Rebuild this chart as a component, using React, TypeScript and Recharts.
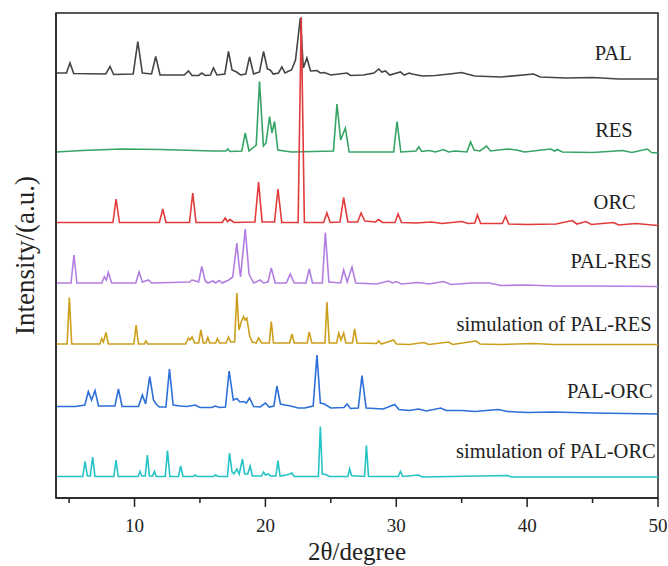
import React from 'react';
import { ComposedChart, Line, Scatter, XAxis, YAxis, ReferenceArea } from 'recharts';

const FONT = "'Liberation Serif', 'Times New Roman', serif";

// 2θ (degree), intensity (a.u., offset-stacked)
const PAL: [number, number][] = [
  [4.0, 425], [4.8, 425], [5.07, 435], [5.35, 424.5], [7.8, 424], [8.13, 431.5], [8.4, 423.5], [9.9, 424],
  [10.25, 456.5], [10.6, 425], [11.3, 424], [11.62, 441.5], [11.95, 423], [13.8, 423], [14.12, 427], [14.4, 422.5],
  [14.9, 422.5], [15.14, 425], [15.4, 422.5], [15.8, 423], [16.03, 430], [16.3, 423], [16.9, 424], [17.18, 446.5],
  [17.45, 428], [17.8, 426], [18.1, 423], [18.5, 424], [18.79, 441], [19.1, 424], [19.55, 426], [19.86, 446.5],
  [20.15, 429], [20.37, 428], [20.6, 424], [21.0, 425], [21.26, 431], [21.5, 425], [21.8, 427], [22.0, 428],
  [22.3, 438], [22.67, 480], [22.9, 430], [23.17, 440], [23.45, 427], [23.94, 427.5], [24.2, 425], [24.5, 425.5],
  [25.0, 423], [26.24, 425], [26.5, 422.5], [27.5, 423], [28.3, 425], [28.66, 429], [28.9, 426], [29.17, 427],
  [29.5, 423], [30.32, 426], [30.6, 423], [31.0, 425], [31.2, 424], [32, 422], [33, 422.5], [34.4, 424.5],
  [35, 425.5], [35.4, 424], [36, 422], [38, 421], [40.5, 424], [41, 421], [43, 420], [45, 420.5], [47, 419], [50, 419],
];

const RES: [number, number][] = [
  [4, 346], [6, 347.5], [9, 349], [12, 348.5], [16, 347], [17.0, 347], [17.13, 349], [17.3, 346.5], [18.2, 347],
  [18.46, 365], [18.75, 347], [19.3, 353], [19.55, 416.5], [19.85, 352], [20.05, 355], [20.32, 381.5], [20.5, 365],
  [20.7, 376.5], [20.95, 348], [22, 346], [25.2, 347], [25.47, 394], [25.75, 358], [26.11, 370], [26.4, 346],
  [29.8, 346], [30.06, 376.5], [30.35, 346], [31.5, 347], [31.72, 351], [31.95, 346.5], [32.5, 347.5], [33, 346],
  [33.6, 348.5], [34, 346], [34.5, 347], [35.4, 346], [35.68, 356], [35.95, 348], [36.4, 347], [36.9, 352],
  [37.2, 347], [38.5, 349], [39.2, 348], [39.8, 346], [41.8, 349], [42.1, 347], [42.3, 348.5], [42.7, 346],
  [45, 345.5], [47.3, 347.5], [48, 345.5], [49.2, 349], [49.5, 345.5], [50, 345],
];

const ORC: [number, number][] = [
  [4, 275.5], [8.35, 275.5], [8.59, 299], [8.85, 275.5], [11.9, 275.5], [12.16, 289], [12.4, 275.5], [14.2, 275.5],
  [14.45, 305], [14.7, 275.5], [16.7, 275.5], [16.93, 280], [17.1, 276.5], [17.3, 278.5], [17.6, 275.5], [19.2, 276],
  [19.48, 316], [19.75, 276], [20.7, 276], [20.96, 309], [21.25, 275.5], [22.5, 275.5], [22.74, 481], [22.98, 275.5],
  [24.45, 275.5], [24.7, 285], [24.95, 275.5], [25.7, 276], [25.98, 300.5], [26.3, 276], [27.05, 276], [27.31, 285],
  [27.6, 277], [28.4, 276], [28.66, 278.5], [28.95, 275.5], [29.9, 275.5], [30.14, 284], [30.4, 275.5], [31.5, 275],
  [32.7, 276], [33.5, 274.5], [35.0, 276.5], [35.5, 274.5], [36.0, 275], [36.2, 283], [36.45, 274.5], [38.1, 274.5],
  [38.35, 281.5], [38.6, 274], [40, 273.5], [42.2, 274], [43.45, 277.5], [43.8, 274], [44.5, 276.5], [44.9, 273.5],
  [46.6, 275.5], [47, 273], [48.3, 274.5], [50, 272.5],
];

const PAL_RES: [number, number][] = [
  [4, 215], [5.15, 215], [5.37, 243], [5.6, 215], [7.5, 215], [7.69, 221], [7.85, 218], [8.0, 225.5], [8.25, 215],
  [10.1, 215], [10.35, 226], [10.6, 216], [11.06, 218], [11.3, 215], [14.2, 216], [14.38, 218], [14.55, 217.5],
  [14.9, 216], [15.14, 231.5], [15.4, 217], [15.6, 215], [16.0, 217], [16.2, 215], [16.47, 217.5], [16.7, 215],
  [17.2, 218], [17.5, 221], [17.82, 255], [17.97, 235], [18.1, 221], [18.46, 269], [18.75, 224], [19.1, 215],
  [19.6, 218], [19.85, 215], [20.2, 216], [20.45, 230], [20.75, 215], [21.6, 215], [21.9, 224], [22.2, 215],
  [23.1, 215], [23.35, 229], [23.6, 215], [24.35, 215], [24.58, 265.5], [24.85, 216], [25.75, 215], [25.98, 228],
  [26.25, 216], [26.62, 231], [26.9, 215], [28.5, 214], [29.4, 217], [29.7, 215], [30.0, 216.5], [30.4, 214],
  [31.7, 215.5], [32.5, 214], [33.6, 216.5], [34.2, 213.5], [35.8, 215], [37.1, 215], [38, 212.5], [40, 213],
  [42, 212], [45, 212], [50, 211.5],
];

const SIM_PAL_RES: [number, number][] = [
  [4, 154], [4.85, 154], [5.02, 200.5], [5.2, 154], [7.35, 154], [7.49, 159.5], [7.62, 156], [7.82, 165.5], [8.0, 154],
  [9.95, 154], [10.12, 173], [10.3, 154], [10.75, 154], [10.88, 157], [11.0, 154], [13.9, 154], [14.12, 160],
  [14.25, 158], [14.4, 161], [14.6, 155], [14.9, 155], [15.07, 168], [15.25, 155], [15.45, 155], [15.6, 160.5],
  [15.75, 155], [16.2, 155], [16.34, 159.5], [16.5, 155], [17.0, 155], [17.18, 161], [17.35, 156], [17.65, 156],
  [17.82, 205], [17.98, 168], [18.15, 176], [18.33, 181.5], [18.45, 178], [18.58, 180], [18.8, 162], [19.0, 156],
  [19.3, 155], [19.48, 160], [19.7, 155], [20.3, 155], [20.45, 176.5], [20.62, 155], [21.85, 155], [22.03, 164],
  [22.2, 155], [23.2, 155], [23.35, 166], [23.55, 155], [24.55, 155], [24.7, 196], [24.88, 155], [25.45, 155],
  [25.6, 165], [25.78, 158], [25.98, 165], [26.15, 155], [26.65, 155], [26.82, 169], [27.0, 155], [28.5, 154.5],
  [28.66, 157], [28.85, 154], [29.8, 158], [30.0, 154], [31, 153.5], [32.1, 155.5], [32.5, 153.5], [34.0, 156],
  [34.3, 153.5], [36.1, 157], [36.4, 154], [38, 153.5], [40.5, 154.5], [42, 153.5], [45, 153.5], [50, 153.5],
];

const PAL_ORC: [number, number][] = [
  [4, 91.5], [5.5, 91.5], [6.2, 93], [6.47, 106.5], [6.72, 98], [6.98, 107.5], [7.25, 92], [8.5, 92], [8.77, 109],
  [9.05, 91.5], [10.3, 91.5], [10.6, 103], [10.85, 94], [11.16, 121.5], [11.45, 98], [11.65, 94], [11.9, 91],
  [12.4, 91], [12.67, 129], [12.95, 93], [13.5, 92], [14.0, 91.5], [14.63, 93], [15.0, 90.5], [15.9, 90.5],
  [16.16, 92], [16.5, 90.5], [16.95, 91], [17.23, 127], [17.55, 98], [17.82, 99.5], [18.05, 96], [18.33, 96.5],
  [18.55, 95], [18.79, 100], [19.1, 91.5], [19.6, 91], [20.0, 95], [20.3, 91], [20.65, 92], [20.88, 112],
  [21.15, 94], [21.5, 93], [21.77, 92.5], [22.5, 90], [23.0, 90], [23.65, 92], [23.94, 143], [24.2, 95],
  [24.5, 94], [25.0, 90], [26.0, 90.5], [26.24, 94], [26.5, 89.5], [27.1, 90], [27.38, 122.5], [27.7, 90],
  [29.0, 89], [29.88, 93.5], [30.2, 88.5], [31.0, 87.5], [31.7, 89], [32.3, 87], [33.4, 90], [33.8, 87.5],
  [35, 87.5], [36, 86.5], [37.8, 88.5], [38.5, 86.5], [40, 85.5], [42, 86], [45, 85], [50, 84],
];

const SIM_PAL_ORC: [number, number][] = [
  [4, 21.5], [6.05, 21.5], [6.22, 36.5], [6.4, 22], [6.62, 22], [6.8, 41], [6.98, 21.5], [8.42, 21.5], [8.59, 38],
  [8.76, 21.5], [10.28, 21.5], [10.42, 26.5], [10.56, 22], [10.82, 22], [10.98, 43], [11.14, 22], [11.38, 22],
  [11.52, 26.5], [11.66, 21.5], [12.35, 21.5], [12.52, 47.5], [12.7, 21.5], [13.36, 21.5], [13.53, 32], [13.7, 21.5],
  [14.5, 21.5], [14.63, 23], [14.8, 21.5], [16.0, 21.5], [16.2, 23], [16.4, 21.5], [17.1, 21.5], [17.26, 45],
  [17.45, 26], [17.6, 24], [17.82, 29], [18.0, 24], [18.25, 39], [18.42, 24], [18.65, 24], [18.84, 32], [19.0, 22],
  [19.7, 22], [19.86, 26], [20.0, 23], [20.2, 24], [20.4, 22], [20.8, 22], [20.96, 37.5], [21.12, 22], [21.6, 23],
  [21.85, 24], [22.03, 25], [22.2, 21.5], [24.05, 21.5], [24.2, 71.5], [24.35, 24], [24.6, 23.5], [24.9, 21.5],
  [26.3, 21.5], [26.44, 29], [26.58, 22.5], [26.8, 22], [27.1, 22], [27.58, 21.5], [27.72, 52.5], [27.88, 21.5],
  [30.15, 21.5], [30.32, 26.5], [30.5, 21.5], [31.7, 23], [32, 21], [38.5, 22.5], [38.8, 21], [50, 21],
];

const SERIES_NAMES = ['PAL', 'RES', 'ORC', 'PAL-RES', 'simulation of PAL-RES', 'PAL-ORC', 'simulation of PAL-ORC'];
const SERIES_DATA = [PAL, RES, ORC, PAL_RES, SIM_PAL_RES, PAL_ORC, SIM_PAL_ORC];
const SERIES_COLORS = ['#444444', '#35a465', '#e23b3b', '#b27ee0', '#cc9f1c', '#2d6fd8', '#25c2c6'];

// label anchor (right end) positions in data units
const LABEL_X = [47.99, 48.07, 48.3, 49.52, 49.52, 49.6, 49.83];
const LABEL_Y = [438.5, 361.5, 289, 230, 167, 100, 40];

const X_TICKS = [5, 10, 15, 20, 25, 30, 35, 40, 45, 50];

const toRows = (pts: [number, number][]) => pts.map(([x, y]) => ({ x, y }));

const labelRows = SERIES_NAMES.map((name, i) => ({ x: LABEL_X[i], y: LABEL_Y[i], name }));

const XTick = (props: any) => {
  const { x, y, payload } = props;
  const major = payload.value % 10 === 0;
  return (
    <g>
      <line x1={x} x2={x} y1={y} y2={y + (major ? 9 : 5)} stroke="#222" strokeWidth={1.5} />
      {major && (
        <text x={x} y={y + 34} textAnchor="middle" fontSize={19} fontFamily={FONT} fill="#222">
          {payload.value}
        </text>
      )}
    </g>
  );
};

const XTitle = (props: any) => {
  const vb = props.viewBox;
  return (
    <text x={vb.x + vb.width / 2} y={vb.y + 62} textAnchor="middle" fontSize={25} fontFamily={FONT} fill="#222">
      2θ/degree
    </text>
  );
};

const YTitle = (props: any) => {
  const vb = props.viewBox;
  const cx = 25;
  const cy = vb.y + vb.height / 2;
  return (
    <text x={cx} y={cy} textAnchor="middle" dominantBaseline="central" fontSize={27} fontFamily={FONT} fill="#222"
      transform={`rotate(-90 ${cx} ${cy})`}>
      Intensity/(a.u.)
    </text>
  );
};

const LabelShape = (props: any) => {
  const { cx, cy, payload } = props;
  return (
    <text x={cx} y={cy} textAnchor="end" fontSize={20.5} fontFamily={FONT} fill="#222">
      {payload.name}
    </text>
  );
};

export default function App() {
  return (
    <div style={{ position: 'absolute', left: 0, top: 0, width: 668, height: 566, background: '#fff' }}>
      <ComposedChart width={668} height={566} margin={{ top: 13, right: 10, left: 0, bottom: 0 }}>
        <XAxis
          type="number"
          dataKey="x"
          domain={[4, 50]}
          ticks={X_TICKS}
          allowDataOverflow
          height={68}
          tickSize={0}
          tickMargin={0}
          tickLine={false}
          tick={<XTick />}
          axisLine={{ stroke: '#222', strokeWidth: 1.5 }}
          label={XTitle}
        />
        <YAxis
          type="number"
          dataKey="y"
          domain={[0, 485]}
          allowDataOverflow
          width={56}
          tick={false}
          tickLine={false}
          axisLine={{ stroke: '#222', strokeWidth: 1.5 }}
          label={YTitle}
        />
        <ReferenceArea x1={4} x2={50} y1={0} y2={485} fill="none" stroke="#222" strokeWidth={1.5} ifOverflow="visible" />
        {SERIES_DATA.map((d, i) => (
          <Line
            key={SERIES_NAMES[i]}
            data={toRows(d)}
            dataKey="y"
            type="linear"
            stroke={SERIES_COLORS[i]}
            strokeWidth={1.6}
            dot={false}
            isAnimationActive={false}
          />
        ))}
        <Scatter data={labelRows} dataKey="y" shape={<LabelShape />} isAnimationActive={false} />
      </ComposedChart>
    </div>
  );
}
